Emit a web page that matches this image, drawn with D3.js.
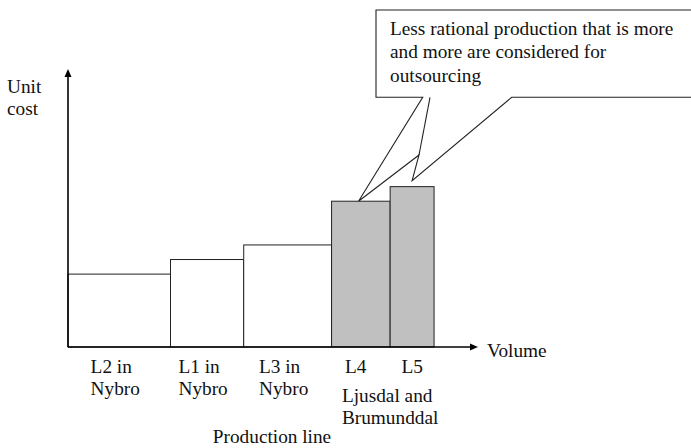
<!DOCTYPE html>
<html>
<head>
<meta charset="utf-8">
<script src="https://cdn.jsdelivr.net/npm/d3@7"></script>
<style>
  body { margin: 0; background: #fff; }
  svg text { font-family: "Liberation Serif", "Times New Roman", "DejaVu Serif", serif; font-size: 19.3px; fill: #111; }
</style>
</head>
<body>
<div id="chart"></div>
<script>
// production lines, relative volume (bar width) and unit cost (bar height)
var lines = ["L2", "L1", "L3", "L4", "L5"];
var volumes = [35, 25, 30, 20, 15];
var unitCosts = [5, 6, 7, 10, 11];
var outsourced = [false, false, false, true, true];
var tickLabels = [["L2 in", "Nybro"], ["L1 in", "Nybro"], ["L3 in", "Nybro"], ["L4"], ["L5"]];
var groupLabel = ["Ljusdal and", "Brumunddal"];
var calloutText = ["Less rational production that is more", "and more are considered for", "outsourcing"];

var w = 691, h = 448;
var x0 = 68, y0 = 347;

var svg = d3.select("#chart").append("svg")
  .attr("width", w).attr("height", h);

var x = d3.scaleLinear().domain([0, 140]).range([x0, 478]);
var y = d3.scaleLinear().domain([0, 19]).range([y0, 70]);

// cumulative start of each bar
var starts = [];
var acc = 0;
volumes.forEach(function(v) { starts.push(acc); acc += v; });

var data = lines.map(function(l, i) {
  return { name: l, start: starts[i], vol: volumes[i], cost: unitCosts[i], grey: outsourced[i], label: tickLabels[i] };
});

// bars
svg.selectAll(".bar")
  .data(data)
  .enter()
  .append("rect")
  .attr("class", "bar")
  .attr("x", function(d) { return x(d.start); })
  .attr("y", function(d) { return y(d.cost); })
  .attr("width", function(d) { return x(d.start + d.vol) - x(d.start); })
  .attr("height", function(d) { return y(0) - y(d.cost); })
  .style("fill", function(d) { return d.grey ? "#c0c0c0" : "#fff"; })
  .attr("stroke", "#222")
  .attr("stroke-width", 1);

// axes with arrow heads
svg.append("line")
  .attr("x1", x(0)).attr("y1", y(0)).attr("x2", x(0)).attr("y2", y.range()[1] + 5)
  .attr("stroke", "#000").attr("stroke-width", 1.6);
svg.append("path")
  .attr("d", "M" + (x(0) - 3.5) + "," + (y.range()[1] + 7) + " L" + x(0) + "," + (y.range()[1] - 1) + " L" + (x(0) + 3.5) + "," + (y.range()[1] + 7) + "Z")
  .style("fill", "#000");
svg.append("line")
  .attr("x1", x(0)).attr("y1", y(0)).attr("x2", x.range()[1] - 5).attr("y2", y(0))
  .attr("stroke", "#000").attr("stroke-width", 1.6);
svg.append("path")
  .attr("d", "M" + (x.range()[1] - 8) + "," + (y(0) - 3.5) + " L" + x.range()[1] + "," + y(0) + " L" + (x.range()[1] - 8) + "," + (y(0) + 3.5) + "Z")
  .style("fill", "#000");

// axis titles
svg.append("text").attr("x", 7).attr("y", 93).text("Unit");
svg.append("text").attr("x", 7).attr("y", 115).text("cost");
svg.append("text").attr("x", 487).attr("y", 357).text("Volume");
svg.append("text").attr("x", 272).attr("y", 443).attr("text-anchor", "middle").text("Production line");

// tick labels: left aligned blocks centred under each bar
var ticks = svg.selectAll(".tick")
  .data(data)
  .enter()
  .append("text")
  .attr("class", "tick")
  .attr("y", 373);
ticks.selectAll("tspan")
  .data(function(d) { return d.label; })
  .enter()
  .append("tspan")
  .attr("x", 0)
  .attr("dy", function(d, i) { return i === 0 ? 0 : 22; })
  .text(function(d) { return d; });
ticks.each(function(d, i) {
  var bw = this.getBBox().width;
  var cx = x(d.start + d.vol / 2);
  var left = d.label.length > 1 ? cx - bw / 2 - 4 : cx - bw / 2 - (i === 3 ? 5 : 0);
  d3.select(this).selectAll("tspan").attr("x", left);
});

// group label under L4/L5
var g4 = data[3];
var grp = svg.append("text").attr("y", 402);
grp.selectAll("tspan")
  .data(groupLabel)
  .enter()
  .append("tspan")
  .attr("x", 0)
  .attr("dy", function(d, i) { return i === 0 ? 0 : 22; })
  .text(function(d) { return d; });
var gw = grp.node().getBBox().width;
grp.selectAll("tspan").attr("x", x(g4.start + g4.vol) - gw / 2);

// callout box with two pointers
var l4 = data[3], l5 = data[4];
var tipA = [x(l4.start) + 0.46 * (x(l4.start + l4.vol) - x(l4.start)), y(l4.cost)];
var tipB = [x(l5.start + l5.vol / 2), y(l5.cost) - 6];
var boxL = 376, boxT = 10, boxB = 97.3;
var mid = [419, 155];
var calloutPath = "M" + boxL + "," + boxB +
  " V" + boxT + " H" + (w + 10) + " V" + boxB +
  " H511.7 L" + tipB[0] + "," + tipB[1] +
  " L" + mid[0] + "," + mid[1] +
  " L" + tipA[0] + "," + tipA[1] +
  " L422.7," + boxB + " Z";
svg.append("path")
  .attr("d", calloutPath)
  .style("fill", "#fff")
  .attr("stroke", "#222")
  .attr("stroke-width", 1.1)
  .attr("stroke-linejoin", "miter");
svg.append("line")
  .attr("x1", mid[0]).attr("y1", mid[1]).attr("x2", 430).attr("y2", boxB)
  .attr("stroke", "#222").attr("stroke-width", 1.1);

var ct = svg.append("text").attr("y", 35);
ct.selectAll("tspan")
  .data(calloutText)
  .enter()
  .append("tspan")
  .attr("x", 390)
  .attr("dy", function(d, i) { return i === 0 ? 0 : 23.3; })
  .text(function(d) { return d; });
</script>
</body>
</html>
